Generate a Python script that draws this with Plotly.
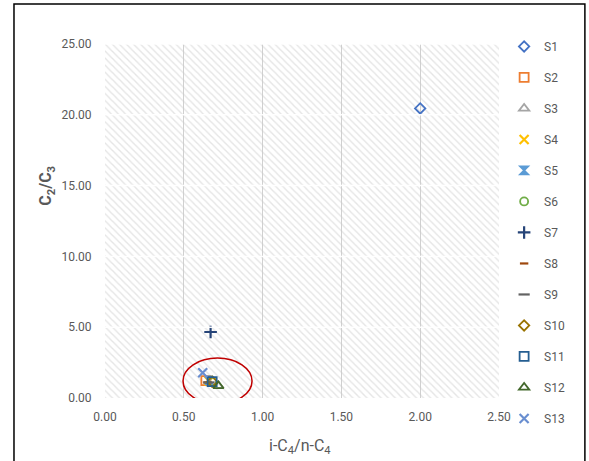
import plotly.graph_objects as go

# ---------------- data ----------------
series = ["S1", "S2", "S3", "S4", "S5", "S6", "S7", "S8", "S9", "S10", "S11", "S12", "S13"]
x_vals = [2.00, 0.64, 0.72, 0.66, 0.66, 0.68, 0.67, 0.65, 0.66, 0.68, 0.68, 0.72, 0.62]
y_vals = [20.45, 1.22, 0.85, 1.20, 1.25, 1.15, 4.66, 1.10, 1.10, 1.15, 1.15, 0.85, 1.78]
symbols = ["diamond-open", "square-open", "triangle-up-open", "x-thin-open", "hourglass",
           "circle-open", "cross-thin-open", "line-ew-open", "line-ew-open", "diamond-open",
           "square-open", "triangle-up-open", "x-thin-open"]
colors = ["#4472C4", "#ED7D31", "#A5A5A5", "#FFC000", "#5B9BD5", "#70AD47", "#264478",
          "#9E480E", "#636363", "#997300", "#255E91", "#43682B", "#698ED0"]
sizes = [8, 9, 9, 9, 8, 8, 9, 6, 8, 8, 9, 9, 9]

x_ticks = [0, 0.5, 1.0, 1.5, 2.0, 2.5]
y_ticks = [0, 5, 10, 15, 20, 25]
x_range = [0, 2.5]
y_range = [0, 25]
x_title = "i-C<sub>4</sub>/n-C<sub>4</sub>"
y_title = "<b>C<sub>2</sub>/C<sub>3</sub></b>"

fig = go.Figure()

# hatched plot-area background
fig.add_trace(go.Scatter(
    x=[x_range[0], x_range[1], x_range[1], x_range[0], x_range[0]],
    y=[y_range[0], y_range[0], y_range[1], y_range[1], y_range[0]],
    mode="none", fill="toself", fillcolor="rgba(0,0,0,0)",
    fillpattern=dict(shape="\\", fgcolor="#cccccc", bgcolor="rgba(0,0,0,0)",
                     size=5, solidity=0.28),
    showlegend=False, hoverinfo="skip"))

for i, name in enumerate(series):
    lw = 2.2 if symbols[i] in ("x-thin-open", "cross-thin-open", "line-ew-open") else 1.8
    fig.add_trace(go.Scatter(
        x=[x_vals[i]], y=[y_vals[i]], mode="markers", name=name,
        legendgroup=name,
        marker=dict(symbol=symbols[i], size=sizes[i], color=colors[i],
                    line=dict(color=colors[i], width=lw))))

# white horizontal gridlines drawn over the hatching
for yv in y_ticks[1:]:
    fig.add_shape(type="line", xref="x", yref="y", x0=x_range[0], x1=x_range[1],
                  y0=yv, y1=yv, line=dict(color="rgba(255,255,255,0.95)", width=1.5),
                  layer="above")

# red ellipse highlighting the cluster
fig.add_shape(type="circle", xref="x", yref="y",
              x0=0.495, x1=0.933, y0=-0.42, y1=2.82,
              line=dict(color="#C00000", width=1.5), layer="above")

# outer frame
fig.add_shape(type="rect", xref="paper", yref="paper",
              x0=-0.231, x1=1.218, y0=-0.3, y1=1.113,
              line=dict(color="black", width=1.5))

FONT = "Liberation Sans Narrow, Roboto, Arial"
font_tick = dict(family=FONT, size=12, color="#595959")

# axis titles
fig.add_annotation(text=y_title, xref="paper", yref="paper", x=-0.147, y=0.60,
                   textangle=-90, showarrow=False, xanchor="center", yanchor="middle",
                   font=dict(family=FONT, size=16, color="#595959"))
fig.add_annotation(text=x_title, xref="paper", yref="paper", x=0.495, y=-0.138,
                   showarrow=False, xanchor="center", yanchor="middle",
                   font=dict(family=FONT, size=16, color="#595959"))

fig.update_layout(
    width=589, height=461,
    margin=dict(l=105, r=90, t=44, b=63, autoexpand=False),
    paper_bgcolor="white", plot_bgcolor="white",
    showlegend=True,
    legend=dict(x=1.013, xanchor="left", y=1.034, yanchor="top",
                font=dict(family=FONT, size=12, color="#595959"),
                tracegroupgap=12, itemwidth=30, bgcolor="rgba(0,0,0,0)",
                maxheight=460),
    xaxis=dict(range=x_range, tickvals=x_ticks, ticktext=[f"{v:.2f}" for v in x_ticks],
               showgrid=True, gridcolor="#d0d0d0", gridwidth=1, zeroline=False,
               showline=False, ticks="outside", ticklen=8, tickcolor="rgba(0,0,0,0)",
               tickfont=font_tick, automargin=False),
    yaxis=dict(range=y_range, tickvals=y_ticks, ticktext=[f"{v:.2f}" for v in y_ticks],
               showgrid=False, zeroline=False,
               showline=False, ticks="outside", ticklen=10, tickcolor="rgba(0,0,0,0)",
               tickfont=font_tick, automargin=False),
)

fig.write_html("out.html", config={"displayModeBar": False},
               post_script="document.body.style.margin='0px';")
